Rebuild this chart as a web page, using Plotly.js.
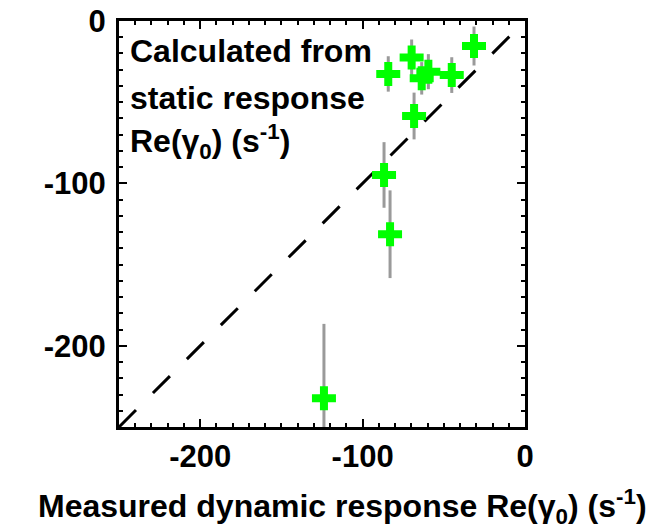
<!DOCTYPE html>
<html>
<head>
<meta charset="utf-8">
<script src="https://cdn.plot.ly/plotly-3.0.1.min.js"></script>
<style>
html, body { margin: 0; padding: 0; background: #ffffff; }
#chart { width: 668px; height: 532px; }
</style>
</head>
<body>
<div id="chart"></div>
<script>
// Measured dynamic response Re(gamma0) (x) vs calculated from static response (y)
const measuredRe = [-84.2, -69.8, -63.6, -59.5, -45.1, -31.4, -68.3, -86.8, -83.1, -123.8];
const calculatedRe = [-32.6, -22.4, -35.3, -31.2, -33.3, -15.4, -58.5, -94.8, -131.3, -232.3];
const calculatedErr = [10.9, 11.0, 10.0, 10.8, 11.0, 12.0, 14.4, 20.2, 27.0, 45.8];

// identity reference line y = x
const identityX = [-250, 0];
const identityY = [-250, 0];

// axis range and ticks
const axisRange = [-250, 0];
const labelTickVals = [-200, -100, 0];
const labelTickText = ['-200', '-100', '0'];
const majorTickStep = 50;
const minorTickStep = 10;

// inset label lines
const insetLines = ['Calculated from', 'static response', 'Re(γ<sub>0</sub>) (s<sup>-1</sup>)'];
const insetLineY = [0.9249, 0.8101, 0.7032];
const xTitle = 'Measured dynamic response Re(γ<sub>0</sub>) (s<sup>-1</sup>)';

const family = "'Liberation Sans', Arial, Helvetica, sans-serif";

const traces = [
  {
    x: identityX, y: identityY, type: 'scatter', mode: 'lines',
    line: { color: '#000000', width: 3, dash: '24px,24px' },
    hoverinfo: 'skip'
  },
  {
    x: measuredRe, y: calculatedRe, type: 'scatter', mode: 'markers',
    marker: { symbol: 'cross', size: 20, color: '#00ff00', line: { width: 0 } },
    error_y: { type: 'data', array: calculatedErr, visible: true, color: '#9a9a9a', thickness: 3, width: 0 }
  }
];

function labelAxis() {
  return {
    range: axisRange,
    tickmode: 'array', tickvals: labelTickVals, ticktext: labelTickText,
    ticks: 'inside', ticklen: 8, tickwidth: 2, tickcolor: '#000000',
    showline: true, linewidth: 3, linecolor: '#000000', mirror: 'ticks',
    showgrid: false, zeroline: false,
    minor: { dtick: minorTickStep, tick0: 0, ticks: 'inside', ticklen: 4, tickwidth: 2, tickcolor: '#000000', showgrid: false },
    tickfont: { family: family, size: 31, color: '#000000', weight: 'bold' },
    fixedrange: true
  };
}

function tickAxis(over, anchor) {
  return {
    overlaying: over, anchor: anchor,
    range: axisRange,
    tickmode: 'linear', tick0: 0, dtick: majorTickStep,
    ticks: 'inside', ticklen: 8, tickwidth: 2, tickcolor: '#000000',
    showticklabels: false,
    showline: true, linewidth: 3, linecolor: '#000000', mirror: 'ticks',
    showgrid: false, zeroline: false, fixedrange: true
  };
}

const xaxis = labelAxis();
xaxis.ticklabelstandoff = 0;
const yaxis = labelAxis();
yaxis.ticklabelstandoff = 4;

const annotations = insetLines.map(function (t, i) {
  return {
    xref: 'paper', yref: 'paper', x: 0.022, y: insetLineY[i],
    xanchor: 'left', yanchor: 'middle', align: 'left', showarrow: false,
    text: t,
    font: { family: family, size: 32, color: '#000000', weight: 'bold' }
  };
});
annotations.push({
  xref: 'paper', yref: 'paper', x: 0.5505, y: -0.197,
  xanchor: 'center', yanchor: 'middle', showarrow: false,
  text: xTitle,
  font: { family: family, size: 32, color: '#000000', weight: 'bold' }
});

const layout = {
  width: 668, height: 532,
  margin: { l: 119, r: 143, t: 21, b: 105 },
  paper_bgcolor: '#ffffff', plot_bgcolor: '#ffffff',
  showlegend: false,
  xaxis: xaxis, yaxis: yaxis,
  xaxis2: tickAxis('x', 'y'),
  yaxis2: tickAxis('y', 'x'),
  annotations: annotations
};

Plotly.newPlot('chart', traces, layout, { staticPlot: true, displayModeBar: false });
</script>
</body>
</html>
